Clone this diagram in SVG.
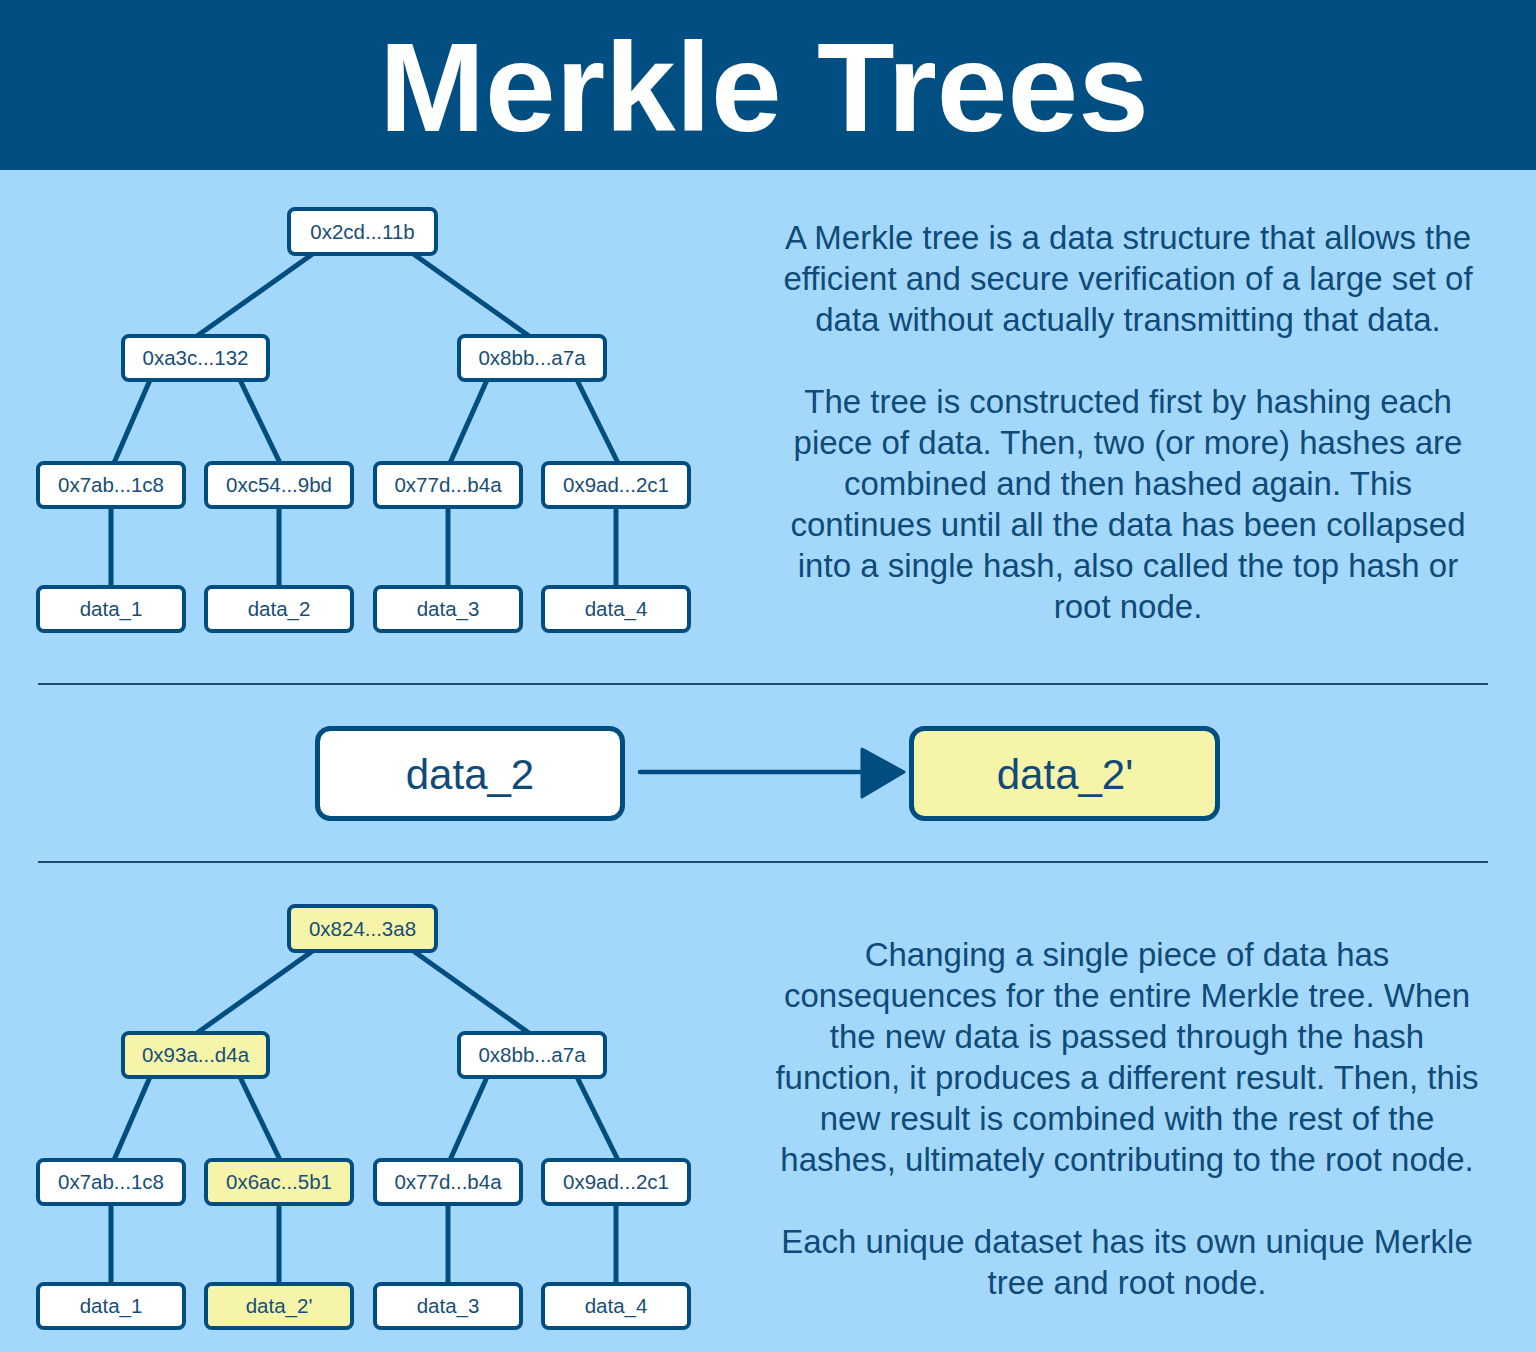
<svg xmlns="http://www.w3.org/2000/svg" width="1536" height="1352" viewBox="0 0 1536 1352">
<defs>
<style>
.bg{fill:#a4d8fb}
.hdr{fill:#004e82}
.title{font-family:"Liberation Sans",Arial,sans-serif;font-weight:bold;font-size:127px;fill:#ffffff;text-anchor:middle}
.box{fill:#ffffff;stroke:#004d80;stroke-width:4}
.hl{fill:#f5f4a9}
.lbl{font-family:"Liberation Sans",Arial,sans-serif;font-size:20.5px;fill:#174e78;text-anchor:middle}
.big{font-family:"Liberation Sans",Arial,sans-serif;font-size:42px;fill:#0f4a78;text-anchor:middle}
.edge{stroke:#004d80;stroke-width:5;fill:none}
.sep{stroke:#1a4c72;stroke-width:2}
.body{font-family:"Liberation Sans",Arial,sans-serif;font-size:33px;fill:#0f4a78;text-anchor:middle}
</style>
</defs>
<rect class="bg" x="0" y="0" width="1536" height="1352"/>
<g id="header">
<rect class="hdr" x="0" y="0" width="1536" height="170"/>
<text class="title" x="764" y="131">Merkle Trees</text>
</g>

<g id="connectors">
<line class="edge" x1="314" y1="253" x2="197" y2="336"/>
<line class="edge" x1="412" y1="253" x2="529" y2="336"/>
<line class="edge" x1="150" y1="380" x2="114" y2="463"/>
<line class="edge" x1="240" y1="380" x2="280" y2="463"/>
<line class="edge" x1="487" y1="380" x2="450" y2="463"/>
<line class="edge" x1="577" y1="380" x2="618" y2="463"/>
<line class="edge" x1="111" y1="507" x2="111" y2="587"/>
<line class="edge" x1="279" y1="507" x2="279" y2="587"/>
<line class="edge" x1="448" y1="507" x2="448" y2="587"/>
<line class="edge" x1="616" y1="507" x2="616" y2="587"/>
<line class="edge" x1="314" y1="950" x2="197" y2="1033"/>
<line class="edge" x1="412" y1="950" x2="529" y2="1033"/>
<line class="edge" x1="150" y1="1077" x2="114" y2="1160"/>
<line class="edge" x1="240" y1="1077" x2="280" y2="1160"/>
<line class="edge" x1="487" y1="1077" x2="450" y2="1160"/>
<line class="edge" x1="577" y1="1077" x2="618" y2="1160"/>
<line class="edge" x1="111" y1="1204" x2="111" y2="1284"/>
<line class="edge" x1="279" y1="1204" x2="279" y2="1284"/>
<line class="edge" x1="448" y1="1204" x2="448" y2="1284"/>
<line class="edge" x1="616" y1="1204" x2="616" y2="1284"/>
<line x1="640" y1="772" x2="862" y2="772" stroke="#004d80" stroke-width="4.5" stroke-linecap="round"/>
<path d="M862,749 L904,772 L862,797 Z" fill="#004d80" stroke="#004d80" stroke-width="3" stroke-linejoin="round"/>
</g>

<g id="separators">
<line class="sep" x1="38" y1="684" x2="1488" y2="684"/>
<line class="sep" x1="38" y1="862" x2="1488" y2="862"/>
</g>

<g id="t-root"><rect class="box" x="289" y="209" width="147" height="45" rx="6"/><text class="lbl" x="362.5" y="239">0x2cd...11b</text></g>
<g id="t-l"><rect class="box" x="123" y="336" width="145" height="44" rx="6"/><text class="lbl" x="195.5" y="365">0xa3c...132</text></g>
<g id="t-r"><rect class="box" x="459" y="336" width="146" height="44" rx="6"/><text class="lbl" x="532" y="365">0x8bb...a7a</text></g>
<g id="t-h1"><rect class="box" x="38" y="463" width="146" height="44" rx="6"/><text class="lbl" x="111" y="492">0x7ab...1c8</text></g>
<g id="t-h2"><rect class="box" x="206" y="463" width="146" height="44" rx="6"/><text class="lbl" x="279" y="492">0xc54...9bd</text></g>
<g id="t-h3"><rect class="box" x="375" y="463" width="146" height="44" rx="6"/><text class="lbl" x="448" y="492">0x77d...b4a</text></g>
<g id="t-h4"><rect class="box" x="543" y="463" width="146" height="44" rx="6"/><text class="lbl" x="616" y="492">0x9ad...2c1</text></g>
<g id="t-d1"><rect class="box" x="38" y="587" width="146" height="44" rx="6"/><text class="lbl" x="111" y="616">data_1</text></g>
<g id="t-d2"><rect class="box" x="206" y="587" width="146" height="44" rx="6"/><text class="lbl" x="279" y="616">data_2</text></g>
<g id="t-d3"><rect class="box" x="375" y="587" width="146" height="44" rx="6"/><text class="lbl" x="448" y="616">data_3</text></g>
<g id="t-d4"><rect class="box" x="543" y="587" width="146" height="44" rx="6"/><text class="lbl" x="616" y="616">data_4</text></g>

<g id="m-old"><rect class="box" x="317.5" y="728.5" width="305" height="90" rx="13" style="stroke-width:5"/><text class="big" x="470" y="789">data_2</text></g>
<g id="m-new"><rect class="box hl" x="911.5" y="728.5" width="306" height="90" rx="13" style="stroke-width:5"/><text class="big" x="1065" y="789">data_2'</text></g>

<g id="b-root"><rect class="box hl" x="289" y="906" width="147" height="45" rx="6"/><text class="lbl" x="362.5" y="936">0x824...3a8</text></g>
<g id="b-l"><rect class="box hl" x="123" y="1033" width="145" height="44" rx="6"/><text class="lbl" x="195.5" y="1062">0x93a...d4a</text></g>
<g id="b-r"><rect class="box" x="459" y="1033" width="146" height="44" rx="6"/><text class="lbl" x="532" y="1062">0x8bb...a7a</text></g>
<g id="b-h1"><rect class="box" x="38" y="1160" width="146" height="44" rx="6"/><text class="lbl" x="111" y="1189">0x7ab...1c8</text></g>
<g id="b-h2"><rect class="box hl" x="206" y="1160" width="146" height="44" rx="6"/><text class="lbl" x="279" y="1189">0x6ac...5b1</text></g>
<g id="b-h3"><rect class="box" x="375" y="1160" width="146" height="44" rx="6"/><text class="lbl" x="448" y="1189">0x77d...b4a</text></g>
<g id="b-h4"><rect class="box" x="543" y="1160" width="146" height="44" rx="6"/><text class="lbl" x="616" y="1189">0x9ad...2c1</text></g>
<g id="b-d1"><rect class="box" x="38" y="1284" width="146" height="44" rx="6"/><text class="lbl" x="111" y="1313">data_1</text></g>
<g id="b-d2"><rect class="box hl" x="206" y="1284" width="146" height="44" rx="6"/><text class="lbl" x="279" y="1313">data_2'</text></g>
<g id="b-d3"><rect class="box" x="375" y="1284" width="146" height="44" rx="6"/><text class="lbl" x="448" y="1313">data_3</text></g>
<g id="b-d4"><rect class="box" x="543" y="1284" width="146" height="44" rx="6"/><text class="lbl" x="616" y="1313">data_4</text></g>

<g id="text-top">
<text class="body" x="1128" y="249">A Merkle tree is a data structure that allows the</text>
<text class="body" x="1128" y="290">efficient and secure verification of a large set of</text>
<text class="body" x="1128" y="331">data without actually transmitting that data.</text>
<text class="body" x="1128" y="413">The tree is constructed first by hashing each</text>
<text class="body" x="1128" y="454">piece of data. Then, two (or more) hashes are</text>
<text class="body" x="1128" y="495">combined and then hashed again. This</text>
<text class="body" x="1128" y="536">continues until all the data has been collapsed</text>
<text class="body" x="1128" y="577">into a single hash, also called the top hash or</text>
<text class="body" x="1128" y="618">root node.</text>
</g>
<g id="text-bottom">
<text class="body" x="1127" y="966">Changing a single piece of data has</text>
<text class="body" x="1127" y="1007">consequences for the entire Merkle tree. When</text>
<text class="body" x="1127" y="1048">the new data is passed through the hash</text>
<text class="body" x="1127" y="1089">function, it produces a different result. Then, this</text>
<text class="body" x="1127" y="1130">new result is combined with the rest of the</text>
<text class="body" x="1127" y="1171">hashes, ultimately contributing to the root node.</text>
<text class="body" x="1127" y="1253">Each unique dataset has its own unique Merkle</text>
<text class="body" x="1127" y="1294">tree and root node.</text>
</g>
</svg>
